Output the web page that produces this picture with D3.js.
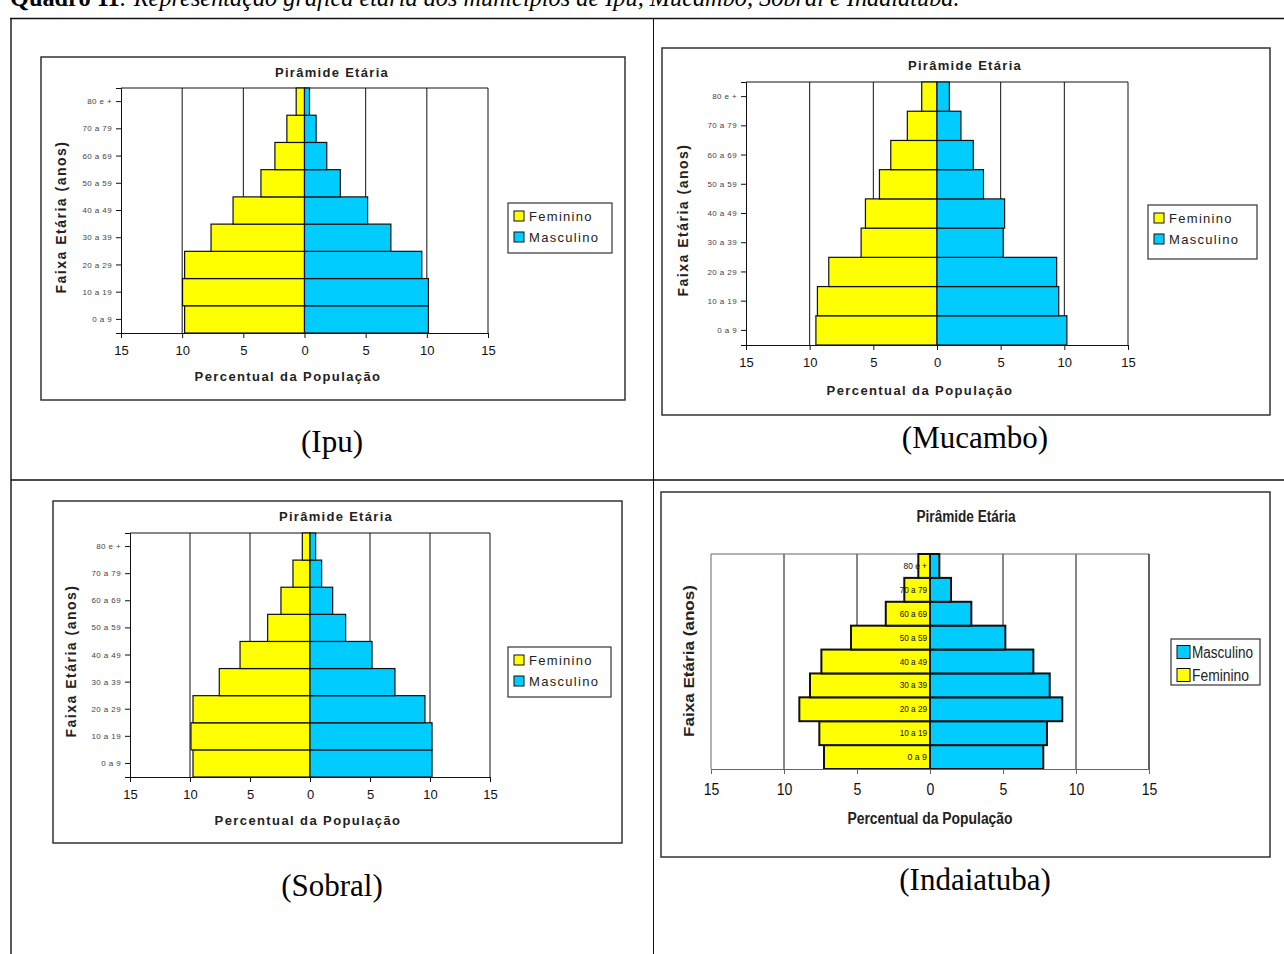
<!DOCTYPE html>
<html>
<head>
<meta charset="utf-8">
<script src="https://cdn.jsdelivr.net/npm/d3@7"></script>
<style>
  body { margin: 0; background: #fff; }
  svg { display: block; }
  .sans { font-family: "Liberation Sans", Arial, sans-serif; }
  .serif { font-family: "Liberation Serif", "Times New Roman", serif; }
</style>
</head>
<body>
<svg id="page" width="1284" height="954"></svg>
<script>
// age groups, bottom to top
var categories = ["0 a 9", "10 a 19", "20 a 29", "30 a 39", "40 a 49", "50 a 59", "60 a 69", "70 a 79", "80 e +"]
var xTicks = [-15, -10, -5, 0, 5, 10, 15]

// percent of population
var ipuFem = [9.8, 9.97, 9.8, 7.64, 5.84, 3.56, 2.42, 1.44, 0.68]
var ipuMasc = [10.13, 10.13, 9.59, 7.06, 5.16, 2.93, 1.82, 0.95, 0.41]

var mucamboFem = [9.51, 9.39, 8.5, 5.96, 5.62, 4.52, 3.63, 2.33, 1.2]
var mucamboMasc = [10.2, 9.56, 9.4, 5.2, 5.31, 3.65, 2.85, 1.88, 0.97]

var sobralFem = [9.75, 9.92, 9.75, 7.56, 5.83, 3.53, 2.42, 1.42, 0.64]
var sobralMasc = [10.17, 10.17, 9.58, 7.08, 5.17, 2.97, 1.89, 0.97, 0.47]

var indaiatubaFem = [7.26, 7.58, 8.95, 8.22, 7.44, 5.41, 3.03, 1.76, 0.8]
var indaiatubaMasc = [7.76, 8.01, 9.06, 8.2, 7.08, 5.16, 2.83, 1.44, 0.64]

var YELLOW = "#ffff00"
var BLUE = "#00ccff"

var svg = d3.select("#page")

// ---- page frame (table) ----
svg.append("text")
  .attr("class", "serif")
  .attr("x", 10).attr("y", 6)
  .attr("font-size", 24.3)
  .call(function(t) {
    t.append("tspan").attr("font-weight", "bold").text("Quadro 11")
    t.append("tspan").attr("font-style", "italic")
      .text(": Representação gráfica etária dos municípios de Ipu, Mucambo, Sobral e Indaiatuba.")
  })

var frame = svg.append("g").attr("stroke", "#111").attr("fill", "none")
frame.append("line").attr("x1", 10).attr("x2", 1284).attr("y1", 18.5).attr("y2", 18.5).attr("stroke-width", 1.6)
frame.append("line").attr("x1", 11).attr("x2", 11).attr("y1", 18).attr("y2", 954).attr("stroke-width", 1.4)
frame.append("line").attr("x1", 653.5).attr("x2", 653.5).attr("y1", 18).attr("y2", 954).attr("stroke-width", 1)
frame.append("line").attr("x1", 11).attr("x2", 1284).attr("y1", 480).attr("y2", 480).attr("stroke-width", 1.6)

function caption(text, x, y) {
  svg.append("text").attr("class", "serif")
    .attr("x", x).attr("y", y)
    .attr("text-anchor", "middle")
    .attr("font-size", 31)
    .text(text)
}
caption("(Ipu)", 332, 452)
caption("(Mucambo)", 975, 448)
caption("(Sobral)", 332, 896)
caption("(Indaiatuba)", 975, 890)

// squeeze text into a condensed look for the Indaiatuba chart
function fit(sel, c, len) {
  if (c.narrow && len) sel.attr("textLength", len).attr("lengthAdjust", "spacingAndGlyphs")
  return sel
}

// ---- one pyramid ----
function drawPyramid(c) {
  var g = svg.append("g").attr("class", "sans")

  // outer box
  g.append("rect")
    .attr("x", c.box[0]).attr("y", c.box[1])
    .attr("width", c.box[2] - c.box[0]).attr("height", c.box[3] - c.box[1])
    .attr("fill", "#fff").attr("stroke", "#333").attr("stroke-width", 1.5)

  var x = d3.scaleLinear().domain([-15, 15]).range([c.left, c.right])
  var y = d3.scaleBand().domain(categories.slice().reverse()).range([c.top, c.bottom]).padding(0)

  // vertical grid lines
  g.append("g").selectAll("line")
    .data(xTicks.filter(function(d) { return d !== 0 && Math.abs(d) !== 15 }))
    .enter().append("line")
    .attr("x1", function(d) { return x(d) }).attr("x2", function(d) { return x(d) })
    .attr("y1", c.top).attr("y2", c.bottom)
    .attr("stroke", "#111").attr("stroke-width", 1)

  // plot frame top + right
  g.append("path")
    .attr("d", "M" + c.left + "," + c.top + "H" + c.right + "V" + c.bottom)
    .attr("fill", "none").attr("stroke", c.narrow ? "#666" : "#111").attr("stroke-width", 1)
  if (c.narrow) {
    g.append("line").attr("x1", c.right).attr("x2", c.right).attr("y1", c.top).attr("y2", c.bottom)
      .attr("stroke", "#111")
  }

  var bw = c.narrow ? 2 : 1.2

  // female bars (left)
  g.append("g").selectAll("rect")
    .data(c.fem)
    .enter().append("rect")
    .attr("x", function(d) { return x(-d) })
    .attr("y", function(d, i) { return y(categories[i]) })
    .attr("width", function(d) { return x(0) - x(-d) })
    .attr("height", y.bandwidth())
    .attr("fill", YELLOW).attr("stroke", "#111").attr("stroke-width", bw)

  // male bars (right)
  g.append("g").selectAll("rect")
    .data(c.masc)
    .enter().append("rect")
    .attr("x", x(0))
    .attr("y", function(d, i) { return y(categories[i]) })
    .attr("width", function(d) { return x(d) - x(0) })
    .attr("height", y.bandwidth())
    .attr("fill", BLUE).attr("stroke", "#111").attr("stroke-width", bw)

  // x axis
  var xa = g.append("g")
    .attr("transform", "translate(0," + c.bottom + ")")
    .call(d3.axisBottom(x).tickValues(xTicks).tickSize(5).tickPadding(c.narrow ? 10 : 8)
      .tickFormat(function(d) { return Math.abs(d) }))
  xa.select(".domain").attr("stroke", c.narrow ? "#666" : "#111")
  xa.selectAll(".tick line").attr("stroke", c.narrow ? "#666" : "#111")
  xa.selectAll("text")
    .attr("font-family", null)
    .attr("font-size", c.narrow ? 16 : 13)
    .attr("fill", "#111")
  if (c.narrow) xa.selectAll("text").attr("transform", "scale(0.88,1)")

  // y axis
  if (!c.narrow) {
    var ya = g.append("g")
      .attr("transform", "translate(" + c.left + ",0)")
      .call(d3.axisLeft(y).tickSize(5).tickPadding(4))
    ya.select(".domain").attr("stroke", "#111")
    ya.selectAll(".tick line").attr("stroke", "#111")
    ya.selectAll("text")
      .attr("font-family", null)
      .attr("font-size", 8)
      .attr("letter-spacing", 0.4)
      .attr("fill", "#444")
  } else {
    g.append("line").attr("x1", c.left).attr("x2", c.left).attr("y1", c.top).attr("y2", c.bottom)
      .attr("stroke", "#666")
    // labels inside the female bars
    g.append("g").selectAll("text")
      .data(categories)
      .enter().append("text")
      .attr("x", x(0) - 3)
      .attr("y", function(d) { return y(d) + y.bandwidth() / 2 + 3 })
      .attr("text-anchor", "end")
      .attr("font-size", 9)
      .attr("fill", "#111")
      .attr("textLength", function(d) { return d.length * 3.9 })
      .attr("lengthAdjust", "spacingAndGlyphs")
      .text(function(d) { return d })
  }

  // titles
  fit(g.append("text")
    .attr("x", c.titleX).attr("y", c.titleY)
    .attr("text-anchor", "middle")
    .attr("font-weight", "bold").attr("font-size", c.narrow ? 16 : 13)
    .attr("letter-spacing", c.narrow ? 0 : 1.3)
    .attr("fill", "#222")
    .text("Pirâmide Etária"), c, 99)

  fit(g.append("text")
    .attr("x", c.xtX).attr("y", c.xtY)
    .attr("text-anchor", "middle")
    .attr("font-weight", "bold").attr("font-size", c.narrow ? 16 : 13)
    .attr("letter-spacing", c.narrow ? 0 : 1.4)
    .attr("fill", "#222")
    .text("Percentual da População"), c, 165)

  fit(g.append("text")
    .attr("transform", "translate(" + c.ytX + "," + c.ytY + ") rotate(-90)")
    .attr("text-anchor", "middle")
    .attr("font-weight", "bold").attr("font-size", 14)
    .attr("letter-spacing", c.narrow ? 0 : 1.5)
    .attr("fill", "#222")
    .text("Faixa Etária (anos)"), c, 152)

  // legend
  var lg = g.append("g")
  lg.append("rect")
    .attr("x", c.legend[0]).attr("y", c.legend[1])
    .attr("width", c.legend[2] - c.legend[0]).attr("height", c.legend[3] - c.legend[1])
    .attr("fill", "#fff").attr("stroke", "#333").attr("stroke-width", 1.2)
  var items = c.narrow
    ? [{ name: "Masculino", color: BLUE, len: 61 }, { name: "Feminino", color: YELLOW, len: 57 }]
    : [{ name: "Feminino", color: YELLOW }, { name: "Masculino", color: BLUE }]
  var rowH = c.narrow ? 23 : 21
  var sq = c.narrow ? 13 : 10
  var it = lg.selectAll("g.item").data(items).enter().append("g").attr("class", "item")
    .attr("transform", function(d, i) {
      return "translate(" + (c.legend[0] + 6) + "," + (c.legend[1] + (c.narrow ? 13 : 13) + i * rowH) + ")"
    })
  it.append("rect")
    .attr("x", 0).attr("y", -sq / 2).attr("width", sq).attr("height", sq)
    .attr("fill", function(d) { return d.color }).attr("stroke", "#111").attr("stroke-width", 1)
  var lt = it.append("text")
    .attr("x", sq + (c.narrow ? 2 : 5)).attr("y", c.narrow ? 6 : 5)
    .attr("font-size", c.narrow ? 16 : 13)
    .attr("letter-spacing", c.narrow ? 0 : 1.3)
    .attr("fill", "#222")
    .text(function(d) { return d.name })
  if (c.narrow) {
    lt.attr("textLength", function(d) { return d.len }).attr("lengthAdjust", "spacingAndGlyphs")
  }
}

drawPyramid({
  fem: ipuFem, masc: ipuMasc,
  box: [41, 57, 625, 400], left: 121, right: 488, top: 88, bottom: 333,
  titleX: 332, titleY: 77, xtX: 288, xtY: 381, ytX: 66, ytY: 217,
  legend: [508, 203, 612, 253]
})
drawPyramid({
  fem: mucamboFem, masc: mucamboMasc,
  box: [662, 48, 1270, 415], left: 746, right: 1128, top: 82, bottom: 345,
  titleX: 965, titleY: 70, xtX: 920, xtY: 395, ytX: 688, ytY: 220,
  legend: [1148, 205, 1257, 259]
})
drawPyramid({
  fem: sobralFem, masc: sobralMasc,
  box: [53, 501, 622, 843], left: 130, right: 490, top: 533, bottom: 777,
  titleX: 336, titleY: 521, xtX: 308, xtY: 825, ytX: 76, ytY: 661,
  legend: [508, 647, 611, 697]
})
drawPyramid({
  fem: indaiatubaFem, masc: indaiatubaMasc, narrow: true,
  box: [661, 492, 1270, 857], left: 711, right: 1149, top: 554, bottom: 769,
  titleX: 966, titleY: 522, xtX: 930, xtY: 824, ytX: 694, ytY: 661,
  legend: [1171, 639, 1260, 685]
})
</script>
</body>
</html>
